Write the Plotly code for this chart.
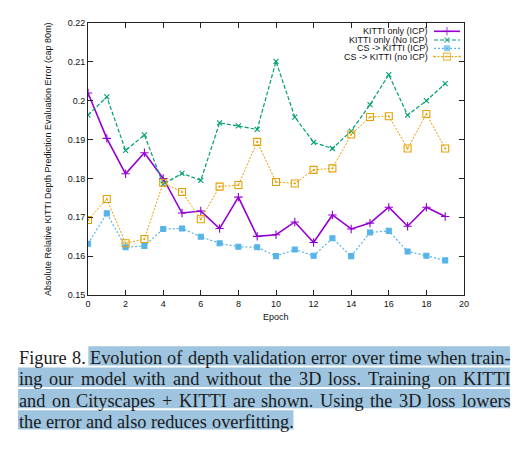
import plotly.graph_objects as go

epochs = list(range(20))

kitti_icp = [0.2020, 0.1903, 0.1812, 0.1866, 0.1800, 0.1711, 0.1716, 0.1671, 0.1752, 0.1651,
             0.1655, 0.1688, 0.1635, 0.1706, 0.1670, 0.1685, 0.1726, 0.1677, 0.1726, 0.1702]
kitti_no_icp = [0.1963, 0.2010, 0.1872, 0.1912, 0.1785, 0.1813, 0.1795, 0.1943, 0.1935, 0.1926,
                0.2101, 0.1958, 0.1893, 0.1877, 0.1922, 0.1990, 0.2067, 0.1963, 0.2000, 0.2044]
cs_kitti_icp = [0.1632, 0.1710, 0.1623, 0.1626, 0.1670, 0.1671, 0.1650, 0.1633, 0.1624, 0.1623,
                0.1600, 0.1617, 0.1601, 0.1646, 0.1600, 0.1661, 0.1665, 0.1612, 0.1601, 0.1589]
cs_kitti_no_icp = [0.1693, 0.1747, 0.1633, 0.1644, 0.1789, 0.1765, 0.1695, 0.1779, 0.1783, 0.1894,
                   0.1791, 0.1787, 0.1822, 0.1826, 0.1913, 0.1958, 0.1960, 0.1877, 0.1966, 0.1877]

series_names = ['KITTI only (ICP)', 'KITTI only (No ICP)', 'CS -> KITTI (ICP)', 'CS -> KITTI (no ICP)']

x_ticks = list(range(0, 21, 2))
y_ticks = [0.15, 0.16, 0.17, 0.18, 0.19, 0.20, 0.21, 0.22]
y_tick_text = ['0.15', '0.16', '0.17', '0.18', '0.19', '0.2', '0.21', '0.22']

caption_lines = [
    'Figure 8. Evolution of depth validation error over time when train-',
    'ing our model with and without the 3D loss. Training on KITTI',
    'and on Cityscapes + KITTI are shown. Using the 3D loss lowers',
    'the error and also reduces overfitting.',
]

# geometry in screenshot pixels; the page body adds an 8px offset
OFF = 8
W, H = 530 - OFF, 459 - OFF
L, R, T, B = 88, 464, 23, 295
SANS = 'Liberation Sans'
SERIF = 'Liberation Serif'

styles = [
    dict(color='#9400d3', width=1.6, dash='solid', symbol='cross-thin', size=6),
    dict(color='#009e73', width=1.2, dash='4px,2px', symbol='x-thin', size=5),
    dict(color='#56b4e9', width=1.2, dash='2px,2px', symbol='square', size=5),
    dict(color='#e69f00', width=1, dash='2px,1.5px', symbol='square-open-dot', size=7),
]


def px(x):
    return (x - OFF) / W


def py(y):
    return 1 - (y - OFF) / H


fig = go.Figure()

for ys, name, st in zip([kitti_icp, kitti_no_icp, cs_kitti_icp, cs_kitti_no_icp], series_names, styles):
    fig.add_trace(go.Scatter(
        x=epochs, y=ys, name=name, mode='lines+markers',
        line=dict(color=st['color'], width=st['width'], dash=st['dash']),
        marker=dict(symbol=st['symbol'], size=st['size'], color=st['color'],
                    line=dict(color=st['color'], width=1.1)),
        showlegend=False))

# gnuplot-style key: text on the left, sample on the right (x2/y2 are in pixel units)
key_rows = [31.3, 40, 48.3, 56.6]
annotations = []
for name, st, ky in zip(series_names, styles, key_rows):
    fig.add_trace(go.Scatter(
        x=[434, 447, 460], y=[ky] * 3, xaxis='x2', yaxis='y2',
        mode='lines+markers', hoverinfo='skip', showlegend=False,
        line=dict(color=st['color'], width=st['width'], dash=st['dash']),
        marker=dict(symbol=st['symbol'], size=[0, st['size'], 0], color=st['color'],
                    line=dict(color=st['color'], width=1.1))))
    annotations.append(dict(x=px(430), y=py(ky), xref='paper', yref='paper', text=name,
                            showarrow=False, xanchor='right', yanchor='middle',
                            font=dict(family=SANS, size=9, color='#111')))

annotations.append(dict(x=px(48), y=py((T + B) / 2), xref='paper', yref='paper',
                        text='Absolute Relative KITTI Depth Prediction Evaluation Error (cap 80m)',
                        textangle=-90, showarrow=False, xanchor='center', yanchor='middle',
                        font=dict(family=SANS, size=9, color='#111')))
annotations.append(dict(x=px((L + R) / 2), y=py(317), xref='paper', yref='paper', text='Epoch',
                        showarrow=False, xanchor='center', yanchor='middle',
                        font=dict(family=SANS, size=9, color='#111')))

# caption, justified word by word with Times metrics
cw = {' ': 250, '+': 564, '-': 333, '.': 250, '3': 500, '8': 500, 'C': 667, 'D': 722, 'E': 611,
      'F': 556, 'I': 333, 'K': 722, 'T': 611, 'U': 722, 'a': 444, 'c': 444, 'd': 500, 'e': 444,
      'f': 333, 'g': 500, 'h': 500, 'i': 278, 'l': 278, 'm': 778, 'n': 500, 'o': 500, 'p': 500,
      'r': 333, 's': 389, 't': 278, 'u': 500, 'v': 500, 'w': 722, 'y': 500}
fs = 18.3
cap_left, cap_right = 18, 510
baselines = [363.3, 384.6, 405.9, 427.2]
shapes = []
for i, (line, base) in enumerate(zip(caption_lines, baselines)):
    words = line.split(' ')
    widths = [sum(cw[c] for c in w) * fs / 1000 for w in words]
    last = i == len(caption_lines) - 1
    gap = cw[' '] * fs / 1000 if last else (cap_right - cap_left - sum(widths)) / (len(words) - 1)
    x = cap_left
    hl_start = None
    for j, (w, wd) in enumerate(zip(words, widths)):
        if (i > 0 or j >= 2) and hl_start is None:
            hl_start = x - (1 if i == 0 else 0)
        annotations.append(dict(x=px(x), y=py(base - 5.2), xref='paper', yref='paper', text=w,
                                showarrow=False, xanchor='left', yanchor='middle', borderpad=0,
                                font=dict(family=SERIF, size=fs, color='#1a1a1a')))
        x += wd + gap
    hl_end = x - gap + (1 if last else 0)
    shapes.append(dict(type='rect', xref='paper', yref='paper', layer='below', line_width=0,
                       fillcolor='#9ec4df', x0=px(hl_start), x1=px(hl_end),
                       y0=py(base + 2.3), y1=py(base - 17)))

axis_common = dict(showline=True, linecolor='#222', linewidth=1, mirror='ticks', ticks='inside',
                   ticklen=5, tickcolor='#222', tickfont=dict(family=SANS, size=9, color='#111'),
                   showgrid=False, zeroline=False, automargin=False)

fig.update_layout(
    width=W, height=H,
    margin=dict(l=0, r=0, t=0, b=0, pad=0),
    paper_bgcolor='white', plot_bgcolor='white',
    xaxis=dict(range=[0, 20], tickvals=x_ticks, domain=[px(L), px(R)], **axis_common),
    yaxis=dict(range=[0.15, 0.22], tickvals=y_ticks, ticktext=y_tick_text,
               domain=[py(B), py(T)], **axis_common),
    xaxis2=dict(overlaying='x', range=[L, R], visible=False),
    yaxis2=dict(overlaying='y', range=[B, T], visible=False),
    annotations=annotations,
    shapes=shapes,
)

fig.write_html("out.html")
